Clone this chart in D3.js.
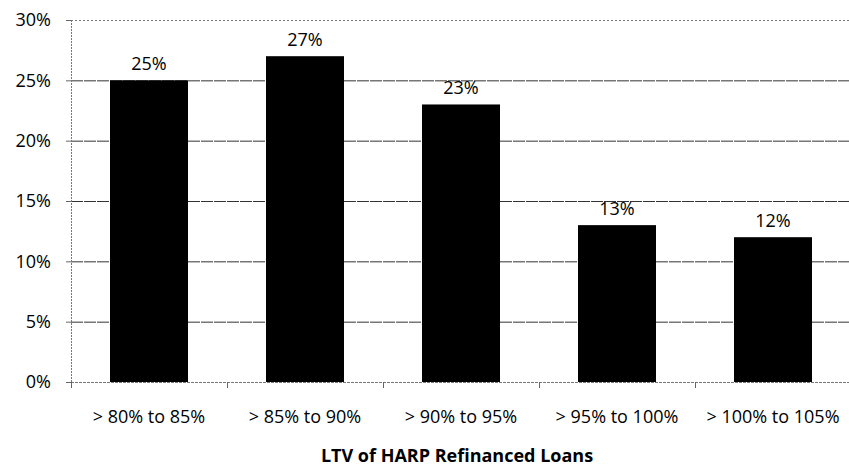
<!DOCTYPE html>
<html><head><meta charset="utf-8">
<script src="https://cdn.jsdelivr.net/npm/d3@7"></script>
<style>body{margin:0;background:#fff}svg{display:block}text{font-family:"Open Sans","Liberation Sans",sans-serif;fill:#000}</style>
</head><body><svg id="c" width="849" height="466"></svg>
<script>
const categories = ["> 80% to 85%", "> 85% to 90%", "> 90% to 95%", "> 95% to 100%", "> 100% to 105%"];
const values = [25, 27, 23, 13, 12];
const yTicks = [0, 5, 10, 15, 20, 25, 30];
const xTitle = "LTV of HARP Refinanced Loans";

(function () {
const svg = d3.select("#c");
const mLeft = 71, mRight = 851, mTop = 20, mBottom = 382;
const x = d3.scaleBand().domain(categories).range([mLeft, mRight]).paddingInner(0.5).paddingOuter(0.25);
const y = d3.scaleLinear().domain([0, 30]).range([mBottom, mTop]);

// gridlines
svg.append("g").selectAll("line").data(yTicks).join("line")
  .attr("x1", mLeft).attr("x2", 849).attr("y1", d => y(d) + 0.5).attr("y2", d => y(d) + 0.5)
  .attr("stroke", d => d === 30 || d === 0 ? "#777" : "#333").attr("stroke-width", 1)
  .attr("stroke-dasharray", d => d === 0 ? "3,1" : (d === 30 ? "2,2" : "12,1"));

// y axis line and ticks
svg.append("line").attr("x1", mLeft + 0.5).attr("x2", mLeft + 0.5).attr("y1", mTop).attr("y2", mBottom)
  .attr("stroke", "#777").attr("stroke-dasharray", "2,1");
svg.append("g").selectAll("line").data(yTicks).join("line")
  .attr("x1", mLeft - 5).attr("x2", mLeft).attr("y1", d => y(d) + 0.5).attr("y2", d => y(d) + 0.5).attr("stroke", "#666");

// y labels
svg.append("g").selectAll("text").data(yTicks).join("text")
  .attr("x", 51).attr("y", d => y(d)).attr("dy", "0.35em").attr("text-anchor", "end")
  .style("font-size", "18px").text(d => d + "%");

// x ticks at band boundaries
const bounds = d3.range(categories.length + 1).map(i => mLeft + i * x.step());
svg.append("g").selectAll("line").data(bounds.slice(0, -1)).join("line")
  .attr("x1", d => d + 0.5).attr("x2", d => d + 0.5).attr("y1", mBottom).attr("y2", mBottom + 6).attr("stroke", "#666");

// bars
svg.append("g").selectAll("rect").data(values).join("rect")
  .attr("x", (d, i) => x(categories[i])).attr("width", x.bandwidth())
  .attr("y", d => y(d)).attr("height", d => mBottom - y(d)).attr("fill", "#000");

// value labels
svg.append("g").selectAll("text").data(values).join("text")
  .attr("x", (d, i) => x(categories[i]) + x.bandwidth() / 2).attr("y", d => y(d) - 10)
  .attr("text-anchor", "middle").style("font-size", "18px").text(d => d + "%");

// x labels
svg.append("g").selectAll("text").data(categories).join("text")
  .attr("x", d => x(d) + x.bandwidth() / 2).attr("y", 423)
  .attr("text-anchor", "middle").style("font-size", "18px").text(d => d);

svg.append("text").attr("x", 457).attr("y", 462).attr("text-anchor", "middle")
  .style("font-size", "18px").style("font-weight", "bold").text(xTitle);
})();
</script></body></html>
